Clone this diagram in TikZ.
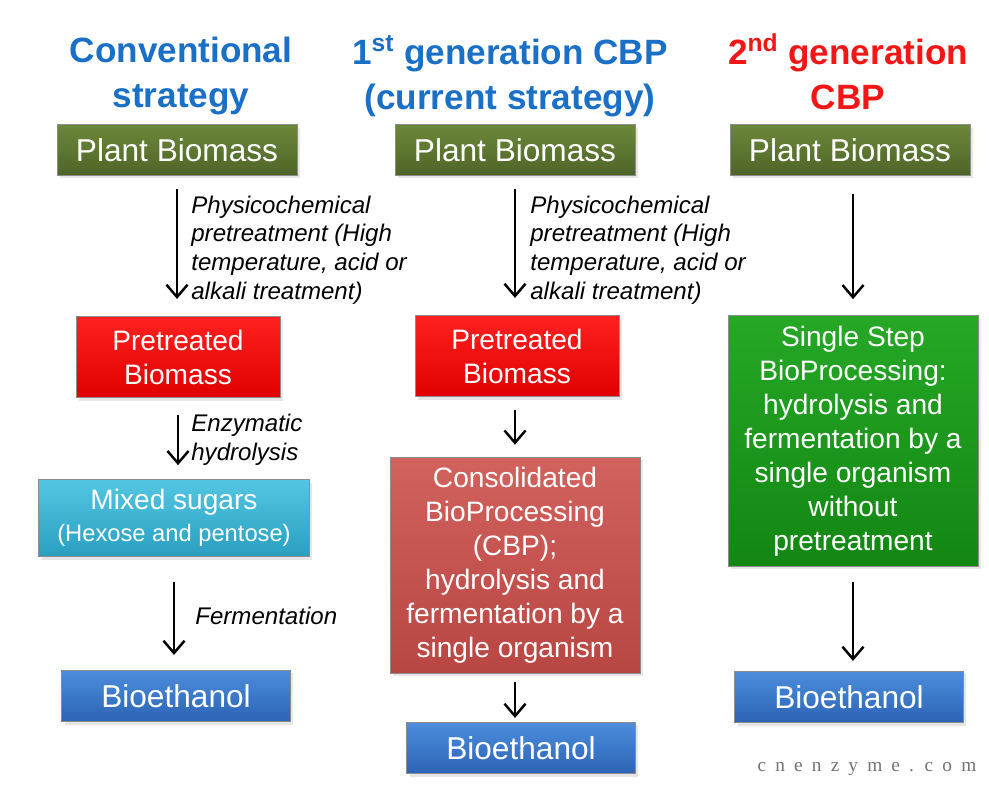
\documentclass[tikz,border=0pt]{standalone}
\usepackage{fontspec}
\setmainfont{Liberation Sans}
\newfontfamily\wmfont{Liberation Serif}
\usepackage{xcolor}
\usetikzlibrary{shapes,arrows,arrows.meta,positioning,shadows}

\definecolor{titleblue}{HTML}{1A6FC6}
\definecolor{titlered}{HTML}{F41515}
\definecolor{oliveTop}{HTML}{6C883A}
\definecolor{oliveBot}{HTML}{4E6427}
\definecolor{redTop}{HTML}{FF2020}
\definecolor{redBot}{HTML}{E00000}
\definecolor{cyanTop}{HTML}{52C6E2}
\definecolor{cyanBot}{HTML}{2A9FC0}
\definecolor{blueTop}{HTML}{4C8DDC}
\definecolor{blueBot}{HTML}{2C63B5}
\definecolor{cbpTop}{HTML}{D2625E}
\definecolor{cbpBot}{HTML}{B84642}
\definecolor{greenTop}{HTML}{26A826}
\definecolor{greenBot}{HTML}{138613}

\begin{document}
\begin{tikzpicture}[
    x=0.02cm, y=-0.02cm,
    >={Straight Barb[length=7pt,width=12pt]},
    box/.style={rectangle, draw=black!45, line width=0.4pt, inner sep=0pt, text=white, align=center,
        font=\fontsize{16}{19.3}\selectfont,
        drop shadow={opacity=0.2, shadow xshift=0.6mm, shadow yshift=-0.6mm}},
    plant/.style={box, top color=oliveTop, bottom color=oliveBot, minimum width=4.8cm, minimum height=1.02cm, font=\fontsize{18}{21}\selectfont},
    pretreated/.style={box, top color=redTop, bottom color=redBot, minimum width=4.08cm, minimum height=1.63cm},
    sugars/.style={box, top color=cyanTop, bottom color=cyanBot, minimum width=5.42cm, minimum height=1.54cm},
    ethanol/.style={box, top color=blueTop, bottom color=blueBot, minimum width=4.57cm, minimum height=1.03cm, font=\fontsize{18}{21}\selectfont},
    cbp/.style={box, top color=cbpTop, bottom color=cbpBot, minimum width=5cm, minimum height=4.32cm},
    ssbp/.style={box, top color=greenTop, bottom color=greenBot, minimum width=5cm, minimum height=5.02cm},
    title/.style={align=center, text=titleblue, font=\fontsize{20}{25.5}\selectfont\bfseries, inner sep=0pt},
    note/.style={anchor=west, align=left, inner sep=0pt, font=\fontsize{13.7}{16.4}\selectfont\itshape},
    flow/.style={->, line width=1.4pt, shorten <=0.3cm, shorten >=0.3cm}]

    \useasboundingbox (0,0) rectangle (989,798);

    % column titles
    \node[title] (t1) at (181,76) {Conventional\\strategy};
    \node[title] (t2) at (510,76) {1\textsuperscript{st} generation CBP\\(current strategy)};
    \node[title, text=titlered] (t3) at (848,72) {2\textsuperscript{nd} generation\\CBP};

    % conventional strategy
    \node[plant] (pb1) at (177,150) {Plant Biomass};
    \node[pretreated] (pt1) at (178,357) {Pretreated\\Biomass};
    \node[sugars] (ms) at (174,518) {Mixed sugars\\[-1pt]{\fontsize{13.5}{16}\selectfont(Hexose and pentose)}};
    \node[ethanol] (be1) at (176,696) {Bioethanol};

    \draw[flow, shorten <=0.26cm, shorten >=0.34cm] (pb1.south) -- (pb1.south |- pt1.north);
    \draw[flow, shorten <=0.34cm, shorten >=0.28cm] (pt1.south) -- (pt1.south |- ms.north);
    \draw[flow, shorten <=0.5cm] (ms.south) -- (ms.south |- be1.north);

    \node[note] (n1) at (191,250) {Physicochemical\\pretreatment (High\\temperature, acid or\\alkali treatment)};
    \node[note] (n2) at (191,440) {Enzymatic\\hydrolysis};
    \node[note] (n3) at (195,616) {Fermentation};

    % 1st generation CBP
    \node[plant] (pb2) at (515,150) {Plant Biomass};
    \node[pretreated] (pt2) at (517,356) {Pretreated\\Biomass};
    \node[cbp] (cb) at (515,565) {Consolidated\\BioProcessing\\(CBP);\\hydrolysis and\\fermentation by a\\single organism};
    \node[ethanol] (be2) at (521,748) {Bioethanol};

    \draw[flow, shorten <=0.26cm, shorten >=0.34cm] (pb2.south -| cb.north) -- (cb.north |- pt2.north);
    \draw[flow, shorten <=0.26cm, shorten >=0.24cm] (pt2.south -| cb.north) -- (cb.north);
    \draw[flow, shorten <=0.18cm, shorten >=0.08cm] (cb.south) -- (cb.south |- be2.north);

    \node[note] (n4) at (530,250) {Physicochemical\\pretreatment (High\\temperature, acid or\\alkali treatment)};

    % 2nd generation CBP
    \node[plant] (pb3) at (850,150) {Plant Biomass};
    \node[ssbp] (sb) at (853,441) {Single Step\\BioProcessing:\\hydrolysis and\\fermentation by a\\single organism\\without\\pretreatment};
    \node[ethanol] (be3) at (849,697) {Bioethanol};

    \draw[flow, shorten <=0.36cm, shorten >=0.32cm] (pb3.south -| sb.north) -- (sb.north);
    \draw[flow, shorten >=0.2cm] (sb.south) -- (sb.south |- be3.north);

    % watermark
    \node[text=black!55, inner sep=0pt, font=\wmfont\fontsize{11}{11}\selectfont] (wm) at (867,769) {\spaceskip=5.2pt c n e n z y m e . c o m};
\end{tikzpicture}
\end{document}
